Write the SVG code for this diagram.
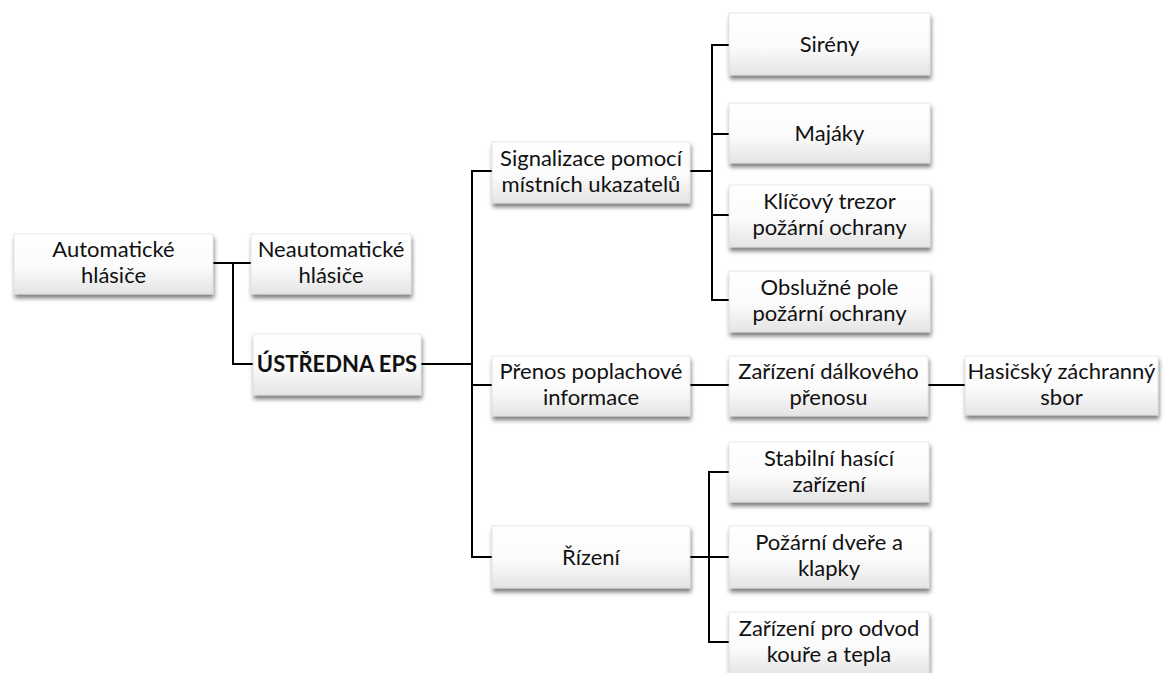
<svg xmlns="http://www.w3.org/2000/svg" width="1170" height="673" viewBox="0 0 1170 673">
  <style>
    .box { fill: url(#boxFill); stroke: #d6d6d6; stroke-width: 0.6; filter: url(#shadow); }
    .lbl { font-family: Lato, "Open Sans", "Liberation Sans", sans-serif; font-size: 22px; fill: #111; text-anchor: middle; }
    .bold { font-weight: bold; }
    .conn { fill: none; stroke: #000; stroke-width: 2; }
  </style>
  <defs>
    <linearGradient id="boxFill" x1="0" y1="0" x2="0" y2="1">
      <stop offset="0" stop-color="#ffffff"/>
      <stop offset="0.55" stop-color="#fbfbfb"/>
      <stop offset="1" stop-color="#e4e4e4"/>
    </linearGradient>
    <filter id="shadow" x="-10%" y="-20%" width="130%" height="160%">
      <feDropShadow dx="1" dy="4" stdDeviation="2.2" flood-color="#000" flood-opacity="0.5"/>
    </filter>
  </defs>
  <rect width="1170" height="673" fill="#fff"/>

  <!-- connectors -->
  <g id="connectors">
    <path class="conn" d="M213 263 H251"/>
    <path class="conn" d="M233 263 V364 H253"/>
    <path class="conn" d="M421 364 H472"/>
    <path class="conn" d="M492 171 H472 V557 H492"/>
    <path class="conn" d="M472 385 H492"/>
    <path class="conn" d="M690 171 H712"/>
    <path class="conn" d="M729 45 H712 V300 H729"/>
    <path class="conn" d="M712 134 H729"/>
    <path class="conn" d="M712 215 H729"/>
    <path class="conn" d="M690 385 H729"/>
    <path class="conn" d="M928 385 H965"/>
    <path class="conn" d="M690 557 H729"/>
    <path class="conn" d="M729 472 H709 V642 H729"/>
  </g>

  <g id="n-automaticke">
    <rect class="box" x="14" y="234" width="199" height="60"/>
    <text class="lbl" x="113.5" y="257">Automatické</text>
    <text class="lbl" x="113.5" y="283">hlásiče</text>
  </g>
  <g id="n-neautomaticke">
    <rect class="box" x="251" y="234" width="160" height="60"/>
    <text class="lbl" x="331" y="257">Neautomatické</text>
    <text class="lbl" x="331" y="283">hlásiče</text>
  </g>
  <g id="n-ustredna">
    <rect class="box" x="253" y="334" width="168" height="61"/>
    <text class="lbl bold" x="337" y="372">ÚSTŘEDNA EPS</text>
  </g>
  <g id="n-signalizace">
    <rect class="box" x="492" y="142" width="198" height="61"/>
    <text class="lbl" x="591" y="166">Signalizace pomocí</text>
    <text class="lbl" x="591" y="192">místních ukazatelů</text>
  </g>
  <g id="n-prenos">
    <rect class="box" x="492" y="356" width="198" height="60"/>
    <text class="lbl" x="591" y="379">Přenos poplachové</text>
    <text class="lbl" x="591" y="405">informace</text>
  </g>
  <g id="n-rizeni">
    <rect class="box" x="492" y="526" width="198" height="62"/>
    <text class="lbl" x="591" y="565">Řízení</text>
  </g>
  <g id="n-sireny">
    <rect class="box" x="729" y="13" width="201" height="62"/>
    <text class="lbl" x="829.5" y="52">Sirény</text>
  </g>
  <g id="n-majaky">
    <rect class="box" x="729" y="103" width="201" height="60"/>
    <text class="lbl" x="829.5" y="141">Majáky</text>
  </g>
  <g id="n-klicovy">
    <rect class="box" x="729" y="185" width="201" height="62"/>
    <text class="lbl" x="829.5" y="209">Klíčový trezor</text>
    <text class="lbl" x="829.5" y="235">požární ochrany</text>
  </g>
  <g id="n-obsluzne">
    <rect class="box" x="729" y="271" width="201" height="61"/>
    <text class="lbl" x="829.5" y="295">Obslužné pole</text>
    <text class="lbl" x="829.5" y="321">požární ochrany</text>
  </g>
  <g id="n-zdp">
    <rect class="box" x="729" y="356" width="199" height="60"/>
    <text class="lbl" x="828.5" y="379">Zařízení dálkového</text>
    <text class="lbl" x="828.5" y="405">přenosu</text>
  </g>
  <g id="n-hzs">
    <rect class="box" x="965" y="356" width="193" height="59"/>
    <text class="lbl" x="1061.5" y="379">Hasičský záchranný</text>
    <text class="lbl" x="1061.5" y="405">sbor</text>
  </g>
  <g id="n-stabilni">
    <rect class="box" x="729" y="442" width="200" height="60"/>
    <text class="lbl" x="829" y="466">Stabilní hasící</text>
    <text class="lbl" x="829" y="492">zařízení</text>
  </g>
  <g id="n-dvere">
    <rect class="box" x="729" y="526" width="200" height="62"/>
    <text class="lbl" x="829" y="550">Požární dveře a</text>
    <text class="lbl" x="829" y="576">klapky</text>
  </g>
  <g id="n-odvod">
    <rect class="box" x="729" y="612" width="200" height="64"/>
    <text class="lbl" x="829" y="636">Zařízení pro odvod</text>
    <text class="lbl" x="829" y="662">kouře a tepla</text>
  </g>
</svg>
